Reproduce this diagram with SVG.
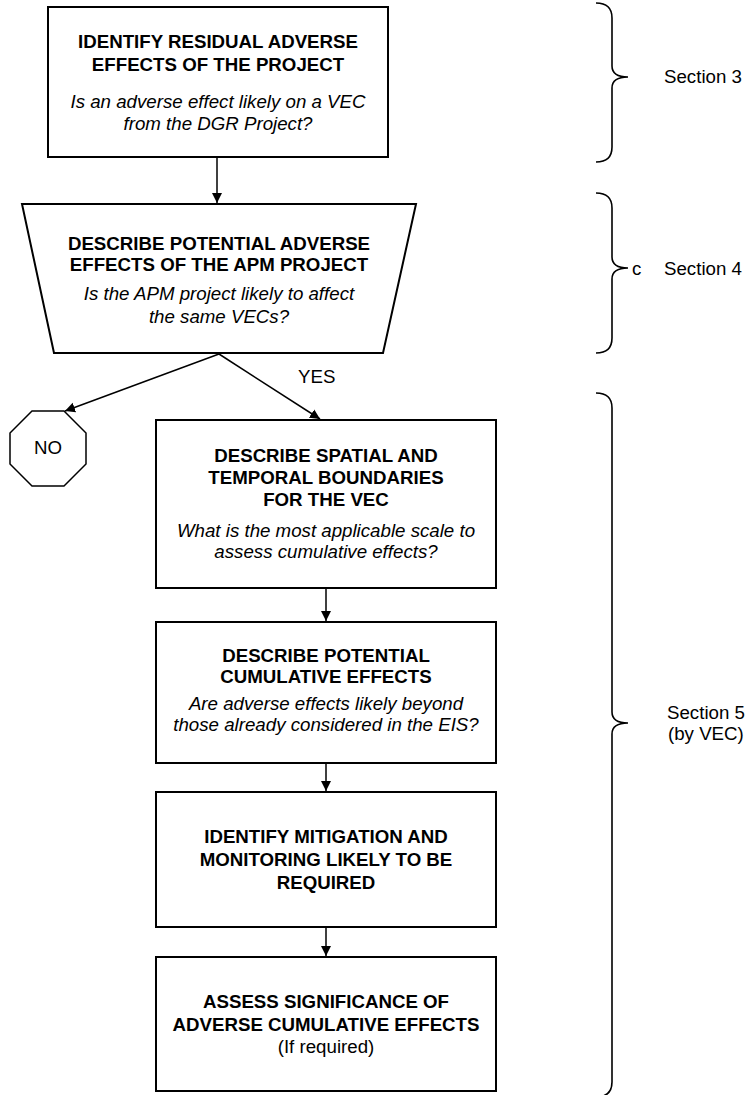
<svg xmlns="http://www.w3.org/2000/svg" width="751" height="1095" viewBox="0 0 751 1095">
<defs>
<style>
.box{fill:#fff;stroke:#000;stroke-width:2}
.ln{fill:none;stroke:#000;stroke-width:1.5}
.br{fill:none;stroke:#000;stroke-width:1.6}
text{font-family:"Liberation Sans",Arial,sans-serif;font-size:18.7px;fill:#000}
.b{font-weight:bold;text-anchor:middle}
.i{font-style:italic;text-anchor:middle}
.m{text-anchor:middle}
</style>
<marker id="ah" markerWidth="10" markerHeight="12" refX="10" refY="5" orient="auto" markerUnits="userSpaceOnUse" viewBox="0 0 10 10">
<path d="M0,0 L10,5 L0,10 Z" fill="#000"/>
</marker>
</defs>
<rect width="751" height="1095" fill="#fff"/>

<g id="connectors">
<line class="ln" x1="217" y1="157" x2="217" y2="203" marker-end="url(#ah)"/>
<line class="ln" x1="219" y1="354" x2="65" y2="411" marker-end="url(#ah)"/>
<line class="ln" x1="219" y1="354" x2="320" y2="419" marker-end="url(#ah)"/>
<line class="ln" x1="326" y1="588" x2="326" y2="621" marker-end="url(#ah)"/>
<line class="ln" x1="326" y1="763" x2="326" y2="791" marker-end="url(#ah)"/>
<line class="ln" x1="326" y1="927" x2="326" y2="956" marker-end="url(#ah)"/>
<text x="298" y="383">YES</text>
</g>

<g id="n1">
<rect class="box" x="48" y="7" width="340" height="150"/>
<text class="b" x="218" y="48">IDENTIFY RESIDUAL ADVERSE</text>
<text class="b" x="218" y="71">EFFECTS OF THE PROJECT</text>
<text class="i" x="218" y="108">Is an adverse effect likely on a VEC</text>
<text class="i" x="218" y="130">from the DGR Project?</text>
</g>

<g id="n2">
<polygon class="box" points="22,204 416,204 383,353 54,353"/>
<text class="b" x="219" y="250">DESCRIBE POTENTIAL ADVERSE</text>
<text class="b" x="219" y="271">EFFECTS OF THE APM PROJECT</text>
<text class="i" x="219" y="300">Is the APM project likely to affect</text>
<text class="i" x="219" y="323">the same VECs?</text>
</g>

<g id="no">
<polygon class="ln" points="32,411 64,411 86,433 86,464 64,486 32,486 10,464 10,433" fill="#fff"/>
<text class="m" x="48" y="454">NO</text>
</g>

<g id="n3">
<rect class="box" x="156" y="420" width="340" height="168"/>
<text class="b" x="326" y="462">DESCRIBE SPATIAL AND</text>
<text class="b" x="326" y="484">TEMPORAL BOUNDARIES</text>
<text class="b" x="326" y="506">FOR THE VEC</text>
<text class="i" x="326" y="537">What is the most applicable scale to</text>
<text class="i" x="326" y="558">assess cumulative effects?</text>
</g>

<g id="n4">
<rect class="box" x="156" y="622" width="340" height="141"/>
<text class="b" x="326" y="662">DESCRIBE POTENTIAL</text>
<text class="b" x="326" y="683">CUMULATIVE EFFECTS</text>
<text class="i" x="326" y="710">Are adverse effects likely beyond</text>
<text class="i" x="326" y="731">those already considered in the EIS?</text>
</g>

<g id="n5">
<rect class="box" x="156" y="792" width="340" height="135"/>
<text class="b" x="326" y="843">IDENTIFY MITIGATION AND</text>
<text class="b" x="326" y="866">MONITORING LIKELY TO BE</text>
<text class="b" x="326" y="889">REQUIRED</text>
</g>

<g id="n6">
<rect class="box" x="156" y="957" width="340" height="134"/>
<text class="b" x="326" y="1008">ASSESS SIGNIFICANCE OF</text>
<text class="b" x="326" y="1031">ADVERSE CUMULATIVE EFFECTS</text>
<text class="m" x="326" y="1053">(If required)</text>
</g>

<g id="brace1">
<path class="br" d="M596,3 Q612,3 612,18 L612,66 Q612,77 628,77 Q612,77 612,88 L612,147 Q612,162 596,162"/>
<text x="664" y="83">Section 3</text>
</g>

<g id="brace2">
<path class="br" d="M596,193 Q612,193 612,208 L612,257 Q612,268 628,268 Q612,268 612,279 L612,338 Q612,353 596,353"/>
<text x="632" y="275">c</text>
<text x="664" y="275">Section 4</text>
</g>

<g id="brace3">
<path class="br" d="M596,393 Q612,393 612,408 L612,712 Q612,723 628,723 Q612,723 612,734 L612,1082 Q612,1097 596,1097"/>
<text x="667" y="719">Section 5</text>
<text x="668" y="740">(by VEC)</text>
</g>
</svg>
